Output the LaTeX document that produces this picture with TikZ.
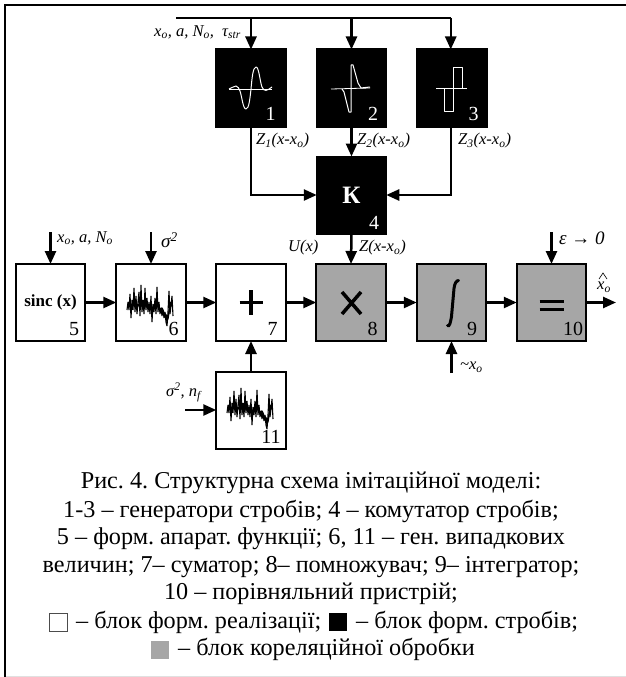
\documentclass[tikz,border=0pt]{standalone}
\usepackage{fontspec}
\setmainfont{Liberation Serif}
\frenchspacing
\usetikzlibrary{arrows.meta,calc}
\definecolor{blockgray}{HTML}{A6A6A6}
\tikzset{
  block/.style={draw=black,line width=2pt,minimum width=69.5pt,minimum height=77pt,inner sep=0pt,outer sep=0pt,font=\fontsize{26}{26}\selectfont},
  wblock/.style={block,fill=white},
  kblock/.style={block,fill=black,text=white},
  gblock/.style={block,fill=blockgray},
  conn/.style={line width=2.5pt,-{Triangle[length=13pt,width=11pt]}},
  plainline/.style={line width=2.5pt},
  numtext/.style={inner sep=0pt,anchor=south east,font=\fontsize{20}{20}\selectfont},
  labtext/.style={inner sep=0pt,anchor=west,font=\itshape\fontsize{16.5}{16.5}\selectfont},
  bigtext/.style={labtext,font=\itshape\fontsize{19}{19}\selectfont},
  captext/.style={inner sep=0pt,font=\fontsize{24.2}{24.2}\selectfont},
  captextw/.style={captext,anchor=west},
  legendbox/.style={minimum size=18pt,inner sep=0pt,outer sep=0pt},
  wavepath/.style={draw=white,line width=1pt,line join=round},
}
\newcommand{\noiseshape}[1]{%
  \draw[shift={(#1)},line width=1.1pt,line join=bevel] (0,22)--(1,14)--(2,22)--(3,6)--(4,30)--(5,12)--(6,22)--(7,0)--(8,24)--(9,8)--(10,26)--(11,14)--(12,4)--(13,28)--(14,-3)--(15,24)--(16,12)--(17,26)--(18,0)--(19,22)--(20,10)--(21,24)--(22,14)--(23,26)--(24,8)--(25,34)--(26,16)--(27,24)--(28,10)--(29,26)--(30,-1)--(31,24)--(32,14)--(33,26)--(34,20)--(35,28)--(36,22)--(37,30)--(38,24)--(39,34)--(40,38)--(41,24)--(42,3)--(43,26)--(44,18)--(45,8)--(46,28);
  \draw[shift={(#1)},line width=1.5pt,line join=bevel] (1,20)--(3,16)--(5,20)--(7,15)--(9,21)--(11,16)--(13,20)--(15,15)--(17,21)--(19,16)--(21,20)--(23,16)--(25,21)--(27,17)--(29,21)--(31,17)--(33,22)--(35,20)--(37,25)--(39,27)--(40,33)--(41,30)--(43,18)--(44,14);}
\begin{document}
\begin{tikzpicture}[x=1pt,y=-1pt]
\useasboundingbox (0,0) rectangle (626,677);
% frame
\draw[line width=2pt,black] (626,5) -- (5,5) -- (5,677);
\draw[line width=1pt,black!12] (6,676) -- (626,676);
% blocks
\node[kblock] (b1) at (251,88) {};
\node[kblock] (b2) at (351.5,88) {};
\node[kblock] (b3) at (452,88) {};
\node[kblock,font=\bfseries\fontsize{25}{25}\selectfont] (b4) at (351.5,195) {К};
\node[wblock,font=\bfseries\fontsize{17}{17}\selectfont] (b5) at (50.5,302.5) {sinc (x)};
\node[wblock] (b6) at (151,302.5) {};
\node[wblock] (b7) at (251,302.5) {};
\node[gblock] (b8) at (351,302.5) {};
\node[gblock] (b9) at (451.5,302.5) {};
\node[gblock] (b10) at (551.5,302.5) {};
\node[wblock] (b11) at (251,410) {};
% numbers
\node[numtext,text=white] (n1) at ($(b1.south east)+(-10,-6)$) {1};
\node[numtext,text=white] (n2) at ($(b2.south east)+(-8,-6)$) {2};
\node[numtext,text=white] (n3) at ($(b3.south east)+(-8,-6)$) {3};
\node[numtext,text=white] (n4) at ($(b4.south east)+(-7,-4)$) {4};
\node[numtext] (n5) at ($(b5.south east)+(-6,-5)$) {5};
\node[numtext] (n6) at ($(b6.south east)+(-7,-5)$) {6};
\node[numtext] (n7) at ($(b7.south east)+(-8,-5)$) {7};
\node[numtext] (n8) at ($(b8.south east)+(-8,-5)$) {8};
\node[numtext] (n9) at ($(b9.south east)+(-9,-5)$) {9};
\node[numtext] (n10) at ($(b10.south east)+(-3,-5)$) {10};
\node[numtext] (n11) at ($(b11.south east)+(-5,-5)$) {11};
% symbols
\draw[line width=3.5pt] (b7.center)+(-11.5,0) -- +(11.5,0) (b7.center)+(0,-12.5) -- +(0,12.5);
\draw[line width=3.5pt] ($(b8.center)+(0.5,0.5)$)+(-9.5,-11) -- +(9.5,11) ($(b8.center)+(0.5,0.5)$)+(-9.5,11) -- +(9.5,-11);
\draw[line width=3pt] (b10.center)+(-12,-1.5) -- +(12,-1.5) (b10.center)+(-12,6.5) -- +(12,6.5);
\draw[line width=3pt,line cap=round] ($(b9.center)+(-4,23)$) .. controls +(2,1.5) and +(-1,6) .. ($(b9.center)+(0,14)$) -- ($(b9.center)+(2.5,-14)$) .. controls +(0.5,-5) and +(-2,0) .. ($(b9.center)+(7,-22)$);
% waveforms
\draw[wavepath,line width=.8pt] (229,89) -- (272,89);
\draw[wavepath] (229,89) .. controls (232,88) and (234,86) .. (236,86) .. controls (238,86) and (239,89) .. (240,91) .. controls (242,97) and (243,109) .. (246,109) .. controls (249,109) and (250,98) .. (251,89) .. controls (252,78) and (253,67) .. (256,67) .. controls (259,67) and (260,82) .. (262,87) .. controls (264,92) and (267,91) .. (272,87);
\draw[wavepath,line width=.8pt] (331,89) -- (370,88);
\draw[wavepath] (342,89) -- (344,92) -- (349,112) -- (351,112) -- (351,65) -- (353,65) -- (358,83) -- (361,88) -- (370,87);
\draw[wavepath,line width=.9pt] (436,88) -- (467,88) (444,88) -- (444,111) -- (453,111) -- (453,67) -- (462,67) -- (462,88);
% noise
\noiseshape{127,288}
\noiseshape{227,391}
% named connector ends
\coordinate (busL) at (176,18);
\coordinate (busR) at (450.75,18);
\coordinate (in5) at (b5.north |- 0,232);
\coordinate (in6) at (b6.north |- 0,232);
\coordinate (in10) at (b10.north |- 0,232);
\coordinate (in9) at (b9.south |- 0,373);
\coordinate (in11) at (185,410);
\coordinate (out10) at (616,302.5);
% connectors
\draw[plainline] (busL) -- (busR);
\draw[conn] (b1.north |- busL) -- (b1.north);
\draw[conn] (b2.north |- busL) -- (b2.north);
\draw[conn] (busR) -- (busR |- b3.north);
\draw[conn] (b2.south) -- (b4.north);
\draw[conn] (b1.south) |- (b4.west);
\draw[conn] (busR |- b3.south) |- (b4.east);
\draw[conn] (b4.south) -- (b8.north);
\draw[conn] (b5.east) -- (b6.west);
\draw[conn] (b6.east) -- (b7.west);
\draw[conn] (b7.east) -- (b8.west);
\draw[conn] (b8.east) -- (b9.west);
\draw[conn] (b9.east) -- (b10.west);
\draw[conn] (b10.east) -- (out10);
\draw[conn] (b11.north) -- (b7.south);
\draw[conn] (in5) -- (b5.north);
\draw[conn] (in6) -- (b6.north);
\draw[conn] (in10) -- (b10.north);
\draw[conn] (in9) -- (b9.south);
\draw[conn] (in11) -- (b11.west);
% labels
\node[labtext] (l0) at (154,32) {x\textsubscript{o}, a, N\textsubscript{o},\ \ τ\textsubscript{str}};
\node[labtext] (l1) at (256,141) {Z\textsubscript{1}(x-x\textsubscript{o})};
\node[labtext] (l2) at (357,141) {Z\textsubscript{2}(x-x\textsubscript{o})};
\node[labtext] (l3) at (458,141) {Z\textsubscript{3}(x-x\textsubscript{o})};
\node[labtext] (lu) at (288,248) {U(x)};
\node[labtext] (lz) at (359,248) {Z(x-x\textsubscript{o})};
\node[labtext] (l5) at (57,238) {x\textsubscript{o}, a, N\textsubscript{o}};
\node[bigtext] (l6) at (161,240) {σ\textsuperscript{2}};
\node[bigtext] (l10) at (559,238) {ε → 0};
\node[labtext] (l9) at (460,367) {\textasciitilde x\textsubscript{o}};
\node[labtext] (l11) at (166,392) {σ\textsuperscript{2}, n\textsubscript{f}};
\node[labtext] (lo) at (597,287) {x\textsubscript{o}};
\draw[line width=.6pt] (599,279) -- (603,273) -- (607,279);
% caption
\node[captext] (c1) at (311,483) {Рис. 4. Структурна схема імітаційної моделі:};
\node[captext] (c2) at (311,511) {1-3 – генератори стробів; 4 – комутатор стробів;};
\node[captext] (c3) at (311,539) {5 – форм. апарат. функції; 6, 11 – ген. випадкових};
\node[captext] (c4) at (311,567) {величин; 7– суматор; 8– помножувач; 9– інтегратор;};
\node[captext] (c5) at (311,594) {10 – порівняльний пристрій;};
\node[legendbox,draw=black!70,line width=.6pt,fill=white] (s1) at (58.5,622) {};
\node[captextw] (c6a) at (76,622) {– блок форм. реалізації;};
\node[legendbox,fill=black] (s2) at (338,622) {};
\node[captextw] (c6b) at (356,622) {– блок форм. стробів;};
\node[legendbox,fill=blockgray] (s3) at (160,650) {};
\node[captextw] (c7) at (178,649) {– блок кореляційної обробки};
\end{tikzpicture}
\end{document}
